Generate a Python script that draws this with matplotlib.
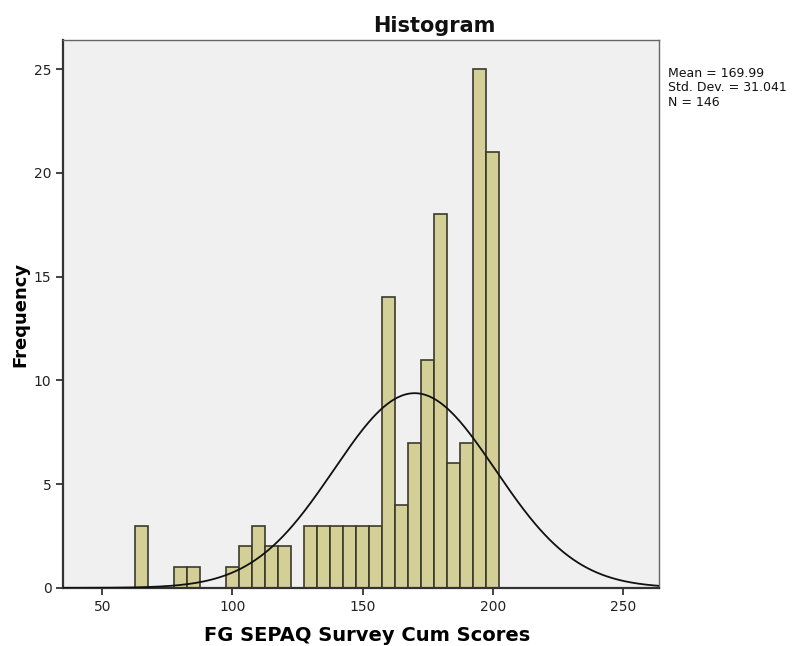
import numpy as np
import matplotlib
matplotlib.use("Agg")
import matplotlib.pyplot as plt

plt.rcParams['font.family'] = ['DejaVu Sans']

# bin centres (width 5) and counts
bin_centers = [65, 80, 85, 100, 105, 110, 115, 120,
               130, 135, 140, 145, 150, 155,
               160, 165, 170, 175, 180, 185, 190, 195, 200]
counts = [3, 1, 1, 1, 2, 3, 2, 2,
          3, 3, 3, 3, 3, 3,
          14, 4, 7, 11, 18, 6, 7, 25, 21]
bin_width = 5
mean, std, n = 169.99, 31.041, 146
x_ticks = [50, 100, 150, 200, 250]
y_ticks = [0, 5, 10, 15, 20, 25]

fig = plt.figure(figsize=(8.11, 6.46), dpi=100)
ax = fig.add_axes([0.078, 0.09, 0.735, 0.848])
ax.set_facecolor('#f0f0f0')

ax.bar(bin_centers, counts, width=bin_width, color='#d3cf97',
       edgecolor='#3b3a2c', linewidth=1.2, zorder=2)

xs = np.linspace(35, 264, 500)
ys = n * bin_width / (std * np.sqrt(2 * np.pi)) * np.exp(-0.5 * ((xs - mean) / std) ** 2)
ax.plot(xs, ys, color='#111111', linewidth=1.3, zorder=3)

ax.set_xlim(35, 264)
ax.set_ylim(0, 26.4)
ax.set_xticks(x_ticks)
ax.set_yticks(y_ticks)
ax.tick_params(direction='out', length=5, width=1.2, labelsize=10, colors='#222222')

for s in ['left', 'bottom']:
    ax.spines[s].set_color('#333333')
    ax.spines[s].set_linewidth(1.6)
for s in ['top', 'right']:
    ax.spines[s].set_color('#666666')
    ax.spines[s].set_linewidth(1.0)

# SPSS centres the title over the whole chart, not the plot frame
fig.text(0.536, 0.951, 'Histogram', fontsize=15, fontweight='bold',
         ha='center', va='baseline', color='#111111')
ax.set_xlabel('FG SEPAQ Survey Cum Scores', fontsize=14, fontweight='bold')
ax.xaxis.set_label_coords(0.51, -0.069)
ax.set_ylabel('Frequency', fontsize=13, fontweight='bold', labelpad=3)

fig.text(0.824, 0.896, 'Mean = 169.99\nStd. Dev. = 31.041\nN = 146',
         fontsize=9, va='top', ha='left', linespacing=1.12, color='#111111')

fig.savefig('out.png', dpi=100)
